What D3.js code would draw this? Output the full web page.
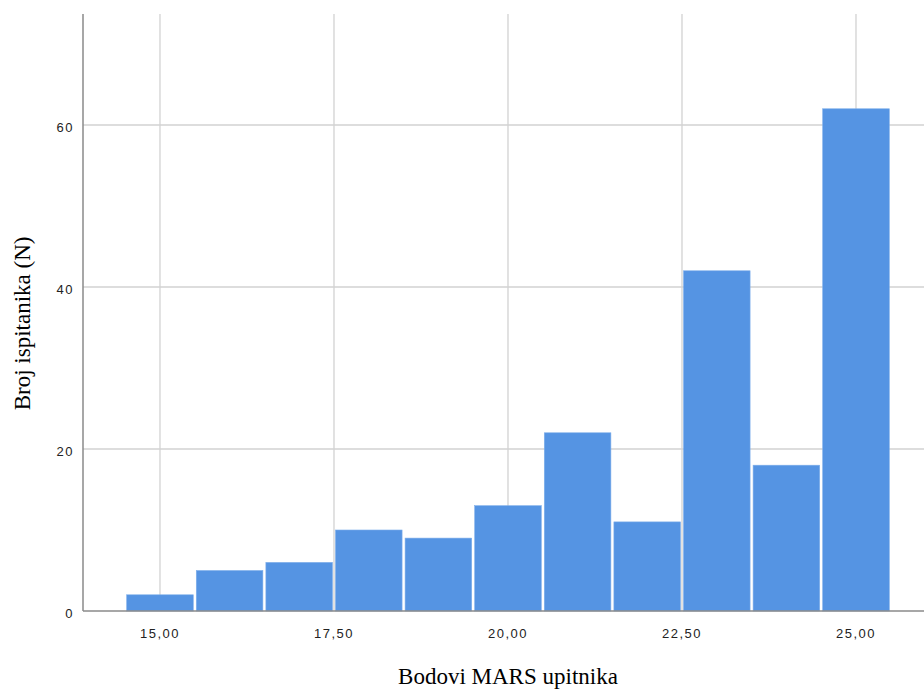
<!DOCTYPE html>
<html>
<head>
<meta charset="utf-8">
<script src="https://cdn.jsdelivr.net/npm/d3@7"></script>
<style>
  body { margin: 0; background: #fff; }
</style>
</head>
<body>
<div id="chart"></div>
<script>
// histogram bins (bin centres, width 1) and counts
const binCentres = [15, 16, 17, 18, 19, 20, 21, 22, 23, 24, 25];
const counts = [2, 5, 6, 10, 9, 13, 22, 11, 42, 18, 62];
const xTicks = [15, 17.5, 20, 22.5, 25];
const yTicks = [0, 20, 40, 60];

const width = 924;
const height = 693;
const margin = { top: 14, right: 0, bottom: 82, left: 83 };

const svg = d3.select('#chart')
    .append('svg')
    .attr('width', width)
    .attr('height', height);

const x = d3.scaleLinear()
    .domain([13.894, 25.977])
    .range([margin.left, width - margin.right]);

const y = d3.scaleLinear()
    .domain([0, 73.7])
    .range([height - margin.bottom, margin.top]);

const fmt = d => d3.format('.2f')(d).replace('.', ',');

// grid lines
svg.append('g')
    .selectAll('line')
    .data(xTicks)
    .enter().append('line')
    .attr('x1', d => x(d)).attr('x2', d => x(d))
    .attr('y1', y(0)).attr('y2', margin.top)
    .attr('stroke', '#d2d2d2')
    .attr('stroke-width', 1.3);

svg.append('g')
    .selectAll('line')
    .data(yTicks.filter(d => d > 0))
    .enter().append('line')
    .attr('x1', margin.left).attr('x2', width)
    .attr('y1', d => y(d)).attr('y2', d => y(d))
    .attr('stroke', '#d2d2d2')
    .attr('stroke-width', 1.3);

// bars
svg.append('g')
    .selectAll('rect')
    .data(binCentres.map((c, i) => ({ c, n: counts[i] })))
    .enter().append('rect')
    .attr('x', d => x(d.c - 0.5) + 1.5)
    .attr('width', d => x(d.c + 0.5) - x(d.c - 0.5) - 3)
    .attr('y', d => y(d.n))
    .attr('height', d => y(0) - y(d.n))
    .attr('fill', '#5594e3')
    .attr('stroke', '#7eaeea')
    .attr('stroke-width', 0.6);

// axis lines
svg.append('line')
    .attr('x1', margin.left).attr('x2', margin.left)
    .attr('y1', margin.top).attr('y2', y(0))
    .attr('stroke', '#8a8a8a').attr('stroke-width', 1.5);

svg.append('line')
    .attr('x1', margin.left).attr('x2', width)
    .attr('y1', y(0)).attr('y2', y(0))
    .attr('stroke', '#8a8a8a').attr('stroke-width', 1.5);

// tick labels
svg.append('g')
    .selectAll('text')
    .data(yTicks)
    .enter().append('text')
    .attr('x', margin.left - 9)
    .attr('y', d => y(d) + 7)
    .attr('text-anchor', 'end')
    .style('font-family', 'Liberation Sans, Arial, sans-serif')
    .style('font-size', '13px')
    .style('letter-spacing', '1.5px')
    .style('fill', '#222')
    .text(d => d);

svg.append('g')
    .selectAll('text')
    .data(xTicks)
    .enter().append('text')
    .attr('x', d => x(d))
    .attr('y', y(0) + 27)
    .attr('text-anchor', 'middle')
    .style('font-family', 'Liberation Sans, Arial, sans-serif')
    .style('font-size', '13px')
    .style('letter-spacing', '1.5px')
    .style('fill', '#222')
    .text(fmt);

// axis titles
svg.append('text')
    .attr('x', x(20))
    .attr('y', 684)
    .attr('text-anchor', 'middle')
    .style('font-family', 'Liberation Serif, Times New Roman, serif')
    .style('font-size', '23px')
    .style('fill', '#000')
    .text('Bodovi MARS upitnika');

svg.append('text')
    .attr('transform', `translate(30, ${y(35.5)}) rotate(-90)`)
    .attr('text-anchor', 'middle')
    .style('font-family', 'Liberation Serif, Times New Roman, serif')
    .style('font-size', '23px')
    .style('fill', '#000')
    .text('Broj ispitanika (N)');
</script>
</body>
</html>
